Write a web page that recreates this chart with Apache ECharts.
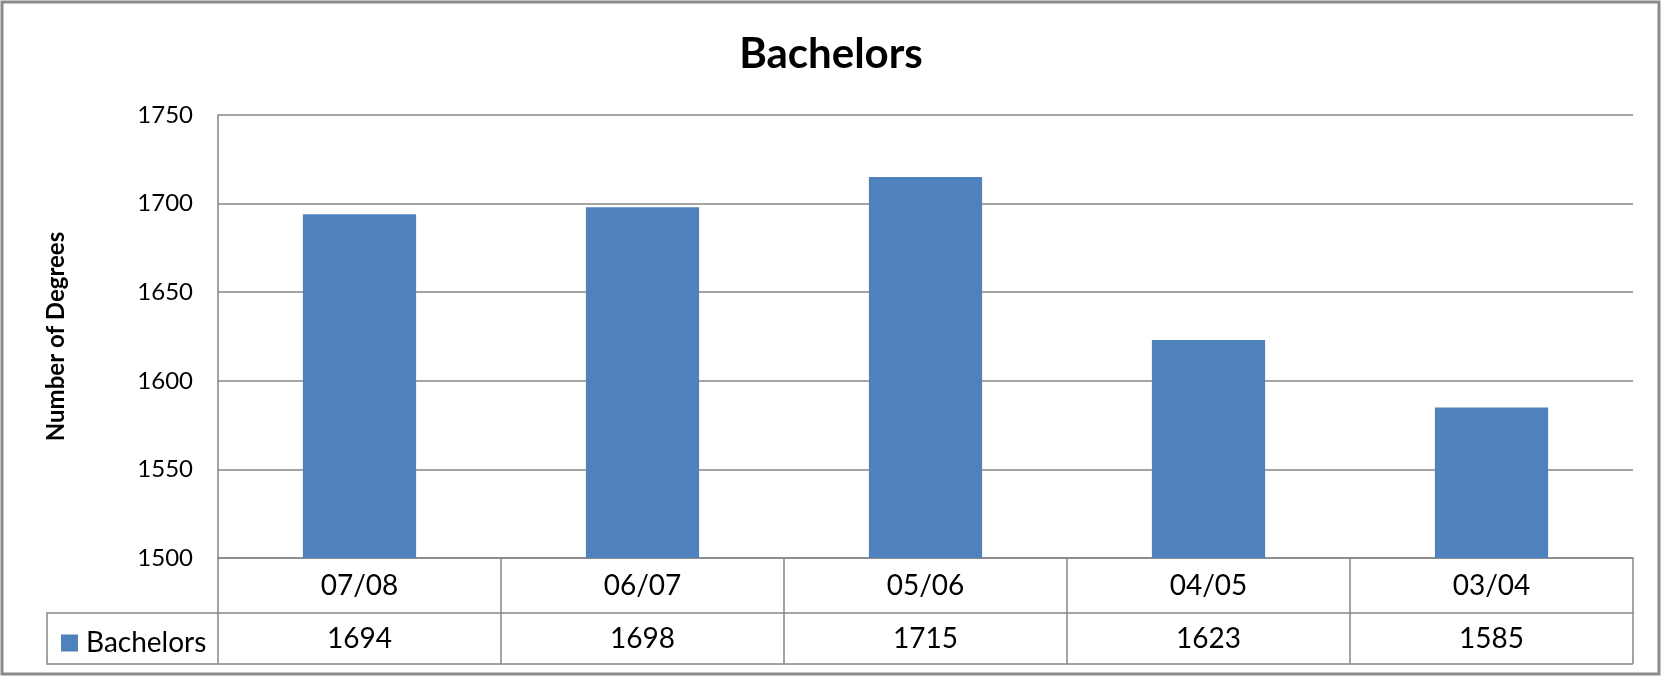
<!DOCTYPE html>
<html>
<head>
<meta charset="utf-8">
<title>Bachelors</title>
<script src="https://cdn.jsdelivr.net/npm/echarts@6/dist/echarts.min.js"></script>
<style>
  html, body { margin: 0; padding: 0; background: #fff; }
  #chart { width: 1662px; height: 678px; }
</style>
</head>
<body>
<div id="chart"></div>
<script>
// data
var years = ['07/08', '06/07', '05/06', '04/05', '03/04'];
var degrees = [1694, 1698, 1715, 1623, 1585];
var yTicks = { min: 1500, max: 1750, step: 50 };

var lineColor = '#868686';
var font = 'Lato, "Open Sans", sans-serif';

var chart = echarts.init(document.getElementById('chart'));
var option = {
  backgroundColor: '#fff',
  animation: false,
  title: {
    text: 'Bachelors',
    left: 'center',
    top: 28,
    textStyle: { fontFamily: font, fontSize: 42, fontWeight: 'bold', color: '#000' }
  },
  legend: {
    data: ['Bachelors'],
    left: 56,
    top: 624,
    itemWidth: 17,
    itemHeight: 17,
    icon: 'rect',
    selectedMode: false,
    textStyle: { fontFamily: font, fontSize: 28, color: '#000', padding: [0, 0, 0, 3] }
  },
  grid: { left: 218, right: 29, top: 115, bottom: 120 },
  xAxis: [
    {
      type: 'category',
      data: years,
      position: 'bottom',
      axisLine: { show: true, lineStyle: { color: lineColor, width: 1.5 } },
      axisTick: { show: true, length: 55, lineStyle: { color: lineColor, width: 1.5 } },
      axisLabel: { fontFamily: font, fontSize: 28, color: '#000', margin: 14 }
    },
    {
      type: 'category',
      data: degrees.map(String),
      position: 'bottom',
      offset: 55,
      axisLine: { show: true, lineStyle: { color: lineColor, width: 1.5 } },
      axisTick: { show: true, length: 51, lineStyle: { color: lineColor, width: 1.5 } },
      axisLabel: { fontFamily: font, fontSize: 28, color: '#000', margin: 12 }
    }
  ],
  yAxis: {
    type: 'value',
    min: yTicks.min,
    max: yTicks.max,
    interval: yTicks.step,
    name: 'Number of Degrees',
    nameLocation: 'middle',
    nameGap: 150,
    nameTextStyle: { fontFamily: font, fontSize: 24, fontWeight: 'bold', color: '#000' },
    axisLine: { show: true, lineStyle: { color: lineColor, width: 1.5 } },
    axisTick: { show: false },
    axisLabel: {
      fontFamily: font, fontSize: 24, color: '#000', margin: 25,
      formatter: function (v) { return String(v); }
    },
    splitLine: { show: true, lineStyle: { color: lineColor, width: 1.5 } }
  },
  series: [
    {
      name: 'Bachelors',
      type: 'bar',
      data: degrees,
      barCategoryGap: '60%',
      itemStyle: { color: '#4F81BD' }
    }
  ],
  graphic: [
    // outer frame
    { type: 'rect', shape: { x: 2, y: 2, width: 1657, height: 672 },
      style: { fill: null, stroke: '#8c8c8c', lineWidth: 3 }, silent: true },
    // data table: legend cell and bottom rule
    { type: 'polyline', shape: { points: [[218, 613], [47, 613], [47, 664], [1633, 664]] },
      style: { fill: null, stroke: lineColor, lineWidth: 1.5 }, silent: true }
  ]
};
chart.setOption(option);
</script>
</body>
</html>
